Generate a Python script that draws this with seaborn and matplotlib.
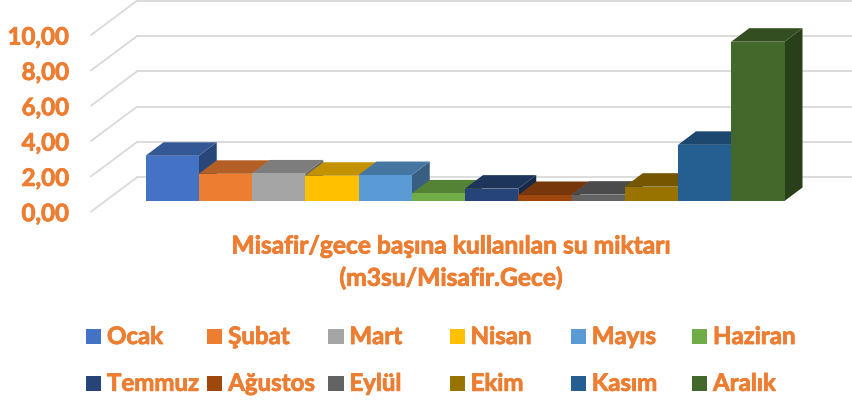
import matplotlib
matplotlib.use("Agg")
import matplotlib.pyplot as plt
import matplotlib.patheffects as pe
from matplotlib.colors import to_rgb
from matplotlib.patches import Polygon, Rectangle
from matplotlib.transforms import ScaledTranslation
import seaborn as sns

months = ["Ocak", "Şubat", "Mart", "Nisan", "Mayıs", "Haziran",
          "Temmuz", "Ağustos", "Eylül", "Ekim", "Kasım", "Aralık"]
water_use = [2.56, 1.54, 1.56, 1.43, 1.47, 0.43, 0.70, 0.34, 0.36, 0.81, 3.18, 9.02]
colors = ["#4472C4", "#ED7D31", "#A5A5A5", "#FFC000", "#5B9BD5", "#70AD47",
          "#264478", "#9E480E", "#636363", "#997300", "#255E91", "#43682B"]
y_ticks = [0, 2, 4, 6, 8, 10]
y_tick_labels = ["0,00", "2,00", "4,00", "6,00", "8,00", "10,00"]
title_lines = ["Misafir/gece başına kullanılan su miktarı", "(m3su/Misafir.Gece)"]

W, H = 852, 405
TEXT_COLOR = "#ED7D31"
GRID_COLOR = "#D9D9D9"
PX_PER_UNIT = 17.66
BAR_W = 53.25
# 3D offsets in pixels
WALL_DX, WALL_DY = 46, 34.4
BAR_DX, BAR_DY = 18, 13.5
# thin stroke to get closer to the heavy look of the original font
HEAVY = [pe.withStroke(linewidth=0.6, foreground=TEXT_COLOR)]

sns.set_theme(style="white")
plt.rcParams["font.family"] = ["Lato", "DejaVu Sans"]
plt.rcParams["font.weight"] = "bold"

fig = plt.figure(figsize=(W / 100, H / 100), dpi=100, facecolor="white")


def px_axes(left, right, top, bottom):
    return fig.add_axes([left / W, 1 - bottom / H, (right - left) / W, (bottom - top) / H])


def shade(color, factor):
    return tuple(c * factor for c in to_rgb(color))


# back wall with gridlines, x axis in pixels
ax_wall = px_axes(137, W, 177.3 - 10 * PX_PER_UNIT, 177.3)
ax_wall.set_xlim(0, W - 137)
ax_wall.set_ylim(0, 10)
ax_wall.set_xticks([])
ax_wall.set_yticks(y_ticks)
ax_wall.set_yticklabels(y_tick_labels, fontsize=17.3, color=TEXT_COLOR, fontweight="bold",
                        path_effects=HEAVY)
ax_wall.tick_params(axis="y", length=0, pad=0)
ax_wall.grid(axis="y", color=GRID_COLOR, linewidth=1.3, clip_on=False)
sns.despine(ax=ax_wall, left=True, bottom=True)
shift = ScaledTranslation(-68 / 100, -WALL_DY / 100, fig.dpi_scale_trans)
for label in ax_wall.get_yticklabels():
    label.set_transform(label.get_transform() + shift)
for v in y_ticks:
    ax_wall.plot([-WALL_DX, 0], [v - WALL_DY / PX_PER_UNIT, v], color=GRID_COLOR,
                 linewidth=1.3, clip_on=False, solid_capstyle="round")

# front faces come from seaborn, top and side faces are added on top of them
ax_bar = px_axes(145.5, 145.5 + 12 * BAR_W, 0, 201)
ax_bar.patch.set_alpha(0)
sns.barplot(x=months, y=water_use, hue=months, palette=colors, saturation=1, width=1,
            dodge=False, legend=False, linewidth=0, edgecolor="none", ax=ax_bar)
ax_bar.set_xlim(-0.5, 11.5)
ax_bar.set_ylim(0, 201 / PX_PER_UNIT)
ax_bar.axis("off")

dx = BAR_DX / BAR_W
dy = BAR_DY / PX_PER_UNIT
for i, (v, c) in enumerate(zip(water_use, colors)):
    x0, x1 = i - 0.5, i + 0.5
    side = [(x1, 0), (x1 + dx, dy), (x1 + dx, v + dy), (x1, v)]
    top = [(x0, v), (x1, v), (x1 + dx, v + dy), (x0 + dx, v + dy)]
    ax_bar.add_patch(Polygon(side, facecolor=shade(c, 0.61), edgecolor="none",
                             clip_on=False, zorder=0.1 + i * 0.01))
    ax_bar.add_patch(Polygon(top, facecolor=shade(c, 0.76), edgecolor="none",
                             clip_on=False, zorder=0.1 + i * 0.01))
for bar in ax_bar.patches:
    if isinstance(bar, Rectangle):
        bar.set_zorder(2)

# axis title
for line, y in zip(title_lines, [246, 278]):
    fig.text(451 / W, 1 - y / H, line, ha="center", va="center", fontsize=17.7,
             color=TEXT_COLOR, fontweight="bold", path_effects=HEAVY)

# legend, two rows of equal width columns
for i, (name, c) in enumerate(zip(months, colors)):
    col, row = i % 6, i // 6
    x = 86 + col * 121.2
    y = 336.5 + row * 46.8
    fig.add_artist(Rectangle((x / W, 1 - (y + 7.5) / H), 15.2 / W, 15 / H, facecolor=c,
                             edgecolor="none", transform=fig.transFigure))
    fig.text((x + 21) / W, 1 - y / H, name, ha="left", va="center", fontsize=17.3,
             color=TEXT_COLOR, fontweight="bold", path_effects=HEAVY)

fig.savefig("out.png", dpi=100, facecolor="white")
plt.close(fig)
